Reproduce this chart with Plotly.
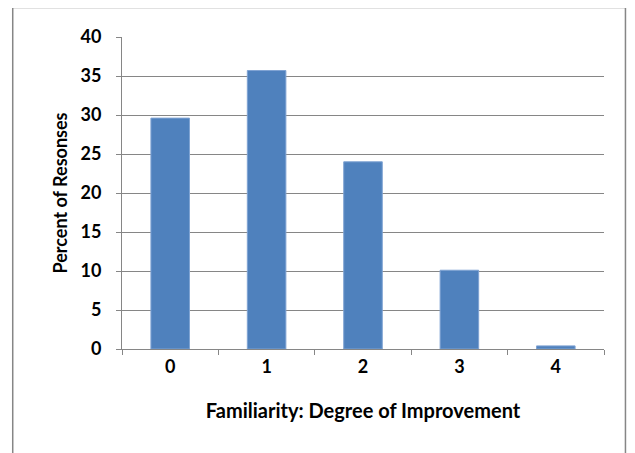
import plotly.graph_objects as go

categories = ["0", "1", "2", "3", "4"]
percent = [29.6, 35.7, 24.0, 10.1, 0.4]
y_ticks = [0, 5, 10, 15, 20, 25, 30, 35, 40]

FONT = "Lato"
GRID = "#868686"

fig = go.Figure(go.Bar(
    x=categories, y=percent,
    marker=dict(color="#4F81BD", line=dict(color="#7FA3D3", width=1)),
))

# page body adds an 8px offset; work in figure coordinates
OFF = 8
W, H = 635 - OFF, 453 - OFF
L, R, T, B = 121.5 - OFF, 604.5 - OFF, 36.5 - OFF, 349.5 - OFF
pw, ph = R - L, B - T

def px_x(p):
    return (p - OFF - L) / pw

def px_y(p):
    return (B - (p - OFF)) / ph

fig.update_layout(
    width=W, height=H,
    margin=dict(l=L, r=W - R, t=T, b=H - B, autoexpand=False),
    paper_bgcolor="white", plot_bgcolor="white",
    bargap=0.6,
    showlegend=False,
    font=dict(family=FONT, color="black"),
    xaxis=dict(
        type="category",
        tickson="boundaries",
        ticks="outside", ticklen=5, tickcolor=GRID, tickwidth=1,
        showline=True, linecolor=GRID, linewidth=1,
        showgrid=False,
        tickfont=dict(family=FONT, size=18, color="black", weight="bold"),
        ticklabelstandoff=1,
        title=dict(text="Familiarity: Degree of Improvement",
                   font=dict(family=FONT, size=20, color="black", weight="bold"), standoff=28),
    ),
    yaxis=dict(
        range=[0, 40], tickvals=y_ticks,
        ticks="outside", ticklen=5, tickcolor=GRID, tickwidth=1,
        showline=True, linecolor=GRID, linewidth=1,
        showgrid=True, gridcolor=GRID, gridwidth=1,
        zeroline=False,
        tickfont=dict(family=FONT, size=18, color="black", weight="bold"),
        ticklabelstandoff=11,
        title=dict(text="Percent of Resonses",
                   font=dict(family=FONT, size=18, color="black", weight="bold"), standoff=8),
    ),
    shapes=[dict(
        type="rect", xref="paper", yref="paper",
        x0=px_x(12), x1=px_x(626), y0=px_y(470), y1=px_y(7),
        line=dict(color=GRID, width=1.5), fillcolor="rgba(0,0,0,0)", layer="below",
    )],
)

fig.write_html("out.html")
